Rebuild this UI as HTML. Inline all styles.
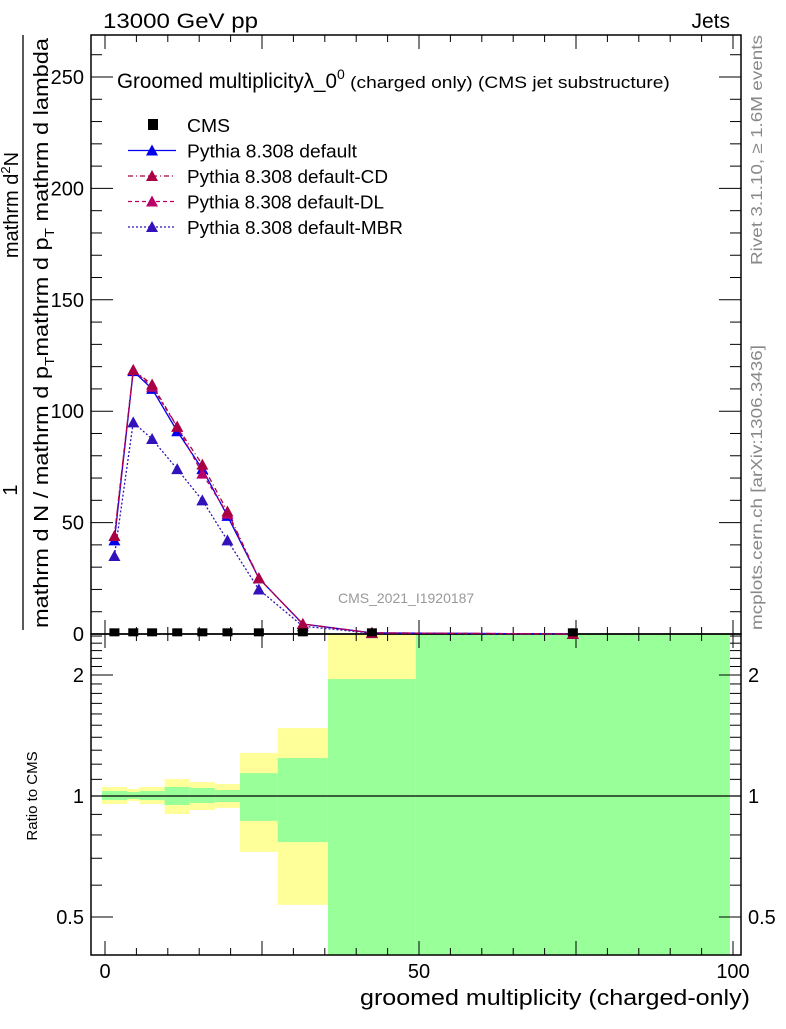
<!DOCTYPE html>
<html><head><meta charset="utf-8"><style>
body{margin:0;background:#fff;font-family:"Liberation Sans",sans-serif}
svg text{font-family:"Liberation Sans",sans-serif}
</style></head><body>
<svg id="c" width="786" height="1024" xmlns="http://www.w3.org/2000/svg"></svg>
<script>
const edges=[-0.5,3.5,5.5,9.5,13.5,17.5,21.5,27.5,35.5,49.5,99.5];
const centers=[1.5,4.5,7.5,11.5,15.5,19.5,24.5,31.5,42.5,74.5];
const cms=[0.3,0.3,0.3,0.3,0.3,0.3,0.3,0.3,0.3,0.3];
const pyDefault=[42,118,110,91,74,53,25,4.5,0.5,0];
const pyCD=[44,118.5,112,93,76,55,25,4.5,0.5,0];
const pyDL=[44,118.5,111,93,72,54,25,4.5,0.5,0];
const pyMBR=[35,95,87.5,74,60,42,20,3.5,0.4,0];
const yelHi=[1.053,1.041,1.053,1.102,1.083,1.071,1.28,1.476,3,3];
const yelLo=[0.955,0.972,0.955,0.902,0.923,0.934,0.726,0.536,0.3,0.3];
const grnHi=[1.029,1.023,1.029,1.053,1.047,1.035,1.14,1.243,1.954,3];
const grnLo=[0.977,0.983,0.977,0.95,0.961,0.966,0.867,0.768,0.3,0.3];
const xTicks=[0,50,100];
const yTicks=[0,50,100,150,200,250];
const rTicks=[0.5,1,2];

const svg=document.getElementById('c');
const NS='http://www.w3.org/2000/svg';
function mk(t,a,p){const e=document.createElementNS(NS,t);for(const k in a)e.setAttribute(k,a[k]);(p||svg).appendChild(e);return e;}
const L=91,R=741,T=35,MB=634,B=955;
const X=v=>105+v*6.28;
const Y=v=>634-v*2.228;
const RY=r=>796-121*Math.log2(r);
const clampR=y=>Math.max(MB,Math.min(B,y));

const gB=mk('g',{});


for(let i=0;i<centers.length;i++){
  const x0=X(edges[i]),x1=X(edges[i+1]);
  const y1=clampR(RY(yelHi[i])),y2=clampR(RY(yelLo[i]));
  const r=mk('rect',{x:x0,y:y1,width:x1-x0,height:y2-y1,fill:'#ffff99'},gB);
  
  
  const g1=clampR(RY(grnHi[i])),g2=clampR(RY(grnLo[i]));
  const r2=mk('rect',{x:x0,y:g1,width:x1-x0,height:g2-g1,fill:'#99ff99'},gB);
  
  
}
mk('line',{x1:L,x2:R,y1:RY(1),y2:RY(1),stroke:'#000','stroke-width':1.3});

mk('rect',{x:L,y:T,width:R-L,height:MB-T,fill:'none',stroke:'#000','stroke-width':1.5});
mk('rect',{x:L,y:MB,width:R-L,height:B-MB,fill:'none',stroke:'#000','stroke-width':1.5});

for(let v=0;v<=100;v+=5){
  const big=v%25==0,len=big?14:7;
  [[MB,-1],[B,-1],[T,1],[MB,1]].forEach(([y,d])=>mk('line',{x1:X(v),x2:X(v),y1:y,y2:y+d*len,stroke:'#000','stroke-width':1}));
}
xTicks.forEach(v=>{const t=mk('text',{x:X(v),y:978,'font-size':20,'text-anchor':'middle'});t.textContent=v;
});
for(let v=0;v<=260;v+=10){
  const big=v%50==0,len=big?22:11;
  mk('line',{x1:L,x2:L+len,y1:Y(v),y2:Y(v),stroke:'#000'});
  mk('line',{x1:R,x2:R-len,y1:Y(v),y2:Y(v),stroke:'#000'});
}
yTicks.forEach(v=>{const t=mk('text',{x:84,y:Y(v)+7,'font-size':20,'text-anchor':'end'});t.textContent=v;
});
[0.4,0.5,0.6,0.7,0.8,0.9,1,1.1,1.2,1.3,1.4,1.5,1.6,1.7,1.8,1.9,2,2.1,2.2,2.3,2.4,2.5].forEach(r=>{
  const big=[0.5,1,2].includes(r),len=big?22:11;const y=RY(r);if(y<MB||y>B)return;
  mk('line',{x1:L,x2:L+len,y1:y,y2:y,stroke:'#000'});mk('line',{x1:R,x2:R-len,y1:y,y2:y,stroke:'#000'});
});
rTicks.forEach(r=>{const t=mk('text',{x:84,y:RY(r)+7,'font-size':20,'text-anchor':'end'});t.textContent=r;

const t2=mk('text',{x:748,y:RY(r)+7,'font-size':20});t2.textContent=r;
});

function series(vals,color,dash,name){
  const g=mk('g',{});
  
  
  mk('polyline',{points:centers.map((c,i)=>X(c)+','+Y(vals[i])).join(' '),fill:'none',stroke:color,'stroke-width':1.3,'stroke-dasharray':dash},g);
  centers.forEach((c,i)=>{const x=X(c),y=Y(vals[i]);
    const p=mk('polygon',{points:`${x-6},${y+5} ${x+6},${y+5} ${x},${y-6}`,fill:color},g);
    });
}
series(pyMBR,'#3311bb','2,2','series-mbr');
series(pyDefault,'#0000ee','','series-default');
series(pyDL,'#bb0066','4,3','series-dl');
series(pyCD,'#aa0044','5,3,1,3','series-cd');
centers.forEach((c,i)=>{const r=mk('rect',{x:X(c)-5,y:Y(cms[i])-5,width:10,height:8,fill:'#000'});
});

function txt(s,a,name){const t=mk('text',a);t.textContent=s;return t;}
txt('13000 GeV pp',{x:103,y:28,'font-size':21,textLength:155,lengthAdjust:'spacingAndGlyphs'},'energy-label');
txt('Jets',{x:730,y:28,'font-size':21,'text-anchor':'end'},'process-label');
const tt=txt('',{x:117,y:88,'font-size':21},'plot-title');
tt.innerHTML='<tspan textLength="220" lengthAdjust="spacingAndGlyphs">Groomed multiplicityλ_0</tspan><tspan dy="-9" font-size="14">0</tspan><tspan dy="9" font-size="17" textLength="325" lengthAdjust="spacingAndGlyphs"> (charged only) (CMS jet substructure)</tspan>';
const leg=[['CMS',null,'',43],['Pythia 8.308 default','#0000ee','',170],['Pythia 8.308 default-CD','#aa0044','5,3,1,3',201],['Pythia 8.308 default-DL','#bb0066','4,3',197],['Pythia 8.308 default-MBR','#3311bb','2,2',216]];
leg.forEach((l,i)=>{const y=125+i*25.5;const g=mk('g',{});
 if(!l[1]) mk('rect',{x:148,y:y-6,width:10,height:11,fill:'#000'},g);
 else{mk('line',{x1:128,x2:176,y1:y,y2:y,stroke:l[1],'stroke-width':1.3,'stroke-dasharray':l[2]},g);
 mk('polygon',{points:`${146},${y+5} ${158},${y+5} ${152},${y-6}`,fill:l[1]},g);}
 const t=mk('text',{x:187,y:y+7,'font-size':18,textLength:l[3],lengthAdjust:'spacingAndGlyphs'},g);t.textContent=l[0];});
txt('CMS_2021_I1920187',{x:338,y:603,'font-size':14,fill:'#999'},'analysis-label');
txt('groomed multiplicity (charged-only)',{x:360,y:1005,'font-size':22,textLength:390,lengthAdjust:'spacingAndGlyphs'},'x-axis-title');
txt('Ratio to CMS',{x:0,y:0,'font-size':15,transform:'translate(37,796) rotate(-90)','text-anchor':'middle'},'ratio-axis-title');
txt('Rivet 3.1.10, ≥ 1.6M events',{x:0,y:0,'font-size':16,fill:'#888',textLength:230,lengthAdjust:'spacingAndGlyphs',transform:'translate(762,265) rotate(-90)'},'rivet-label');
txt('mcplots.cern.ch [arXiv:1306.3436]',{x:0,y:0,'font-size':16,fill:'#888',textLength:285,lengthAdjust:'spacingAndGlyphs',transform:'translate(762,630) rotate(-90)'},'mcplots-label');
const yt=mk('g',{});
mk('line',{x1:23,x2:23,y1:35,y2:630,stroke:'#000','stroke-width':1.3},yt);
let a=mk('text',{'font-size':20,'text-anchor':'middle',transform:'translate(17,490) rotate(-90)'},yt);a.textContent='1';
let b=mk('text',{'font-size':20,'text-anchor':'middle',transform:'translate(18,205) rotate(-90)'},yt);b.innerHTML='mathrm d<tspan dy="-8" font-size="13">2</tspan><tspan dy="8">N</tspan>';
let c=mk('text',{'font-size':20,x:0,y:0,textLength:590,lengthAdjust:'spacingAndGlyphs',transform:'translate(48,628) rotate(-90)'},yt);c.innerHTML='mathrm d N / mathrm d p<tspan dy="6" font-size="13">T</tspan><tspan dy="-6">mathrm d p</tspan><tspan dy="6" font-size="13">T</tspan><tspan dy="-6"> mathrm d lambda</tspan>';
</script>
</body></html>
